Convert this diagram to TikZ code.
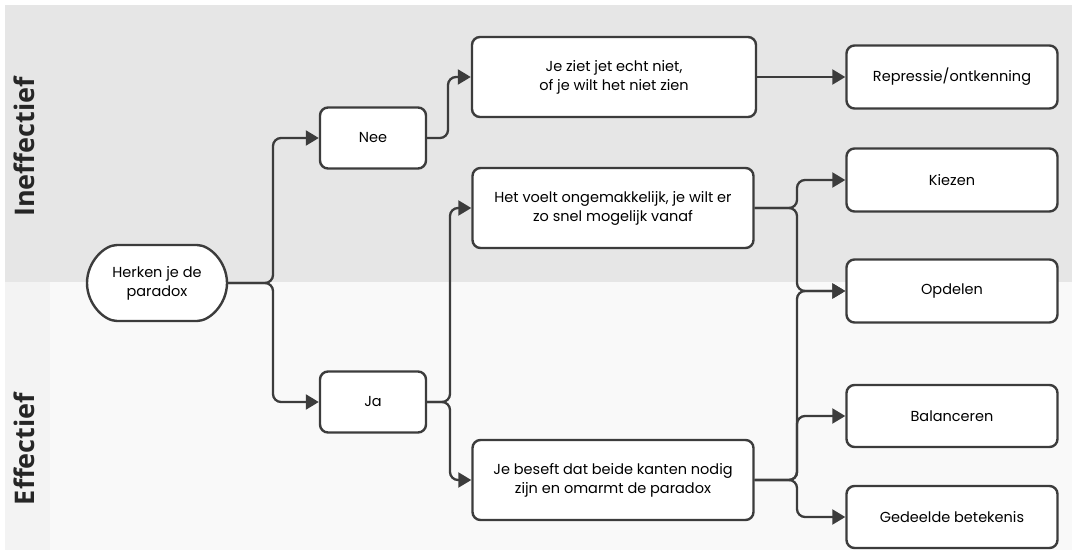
\documentclass[tikz,border=0pt]{standalone}
\usepackage{fontspec}
\setmainfont{Poppins}
\newfontfamily\sidefont{Open Sans}
\usetikzlibrary{arrows.meta,shapes.misc}
\definecolor{bandtop}{HTML}{E6E6E6}
\definecolor{bandlow}{HTML}{F9F9F9}
\definecolor{bandstrip}{HTML}{F3F3F3}
\definecolor{edge}{HTML}{3C3C3C}
\tikzset{
  box/.style={draw=edge, line width=2.4pt, fill=white, rounded corners=8pt,
    align=center, font=\fontsize{14.5}{19}\selectfont, inner sep=0pt},
  startbox/.style={box, rounded rectangle},
  conn/.style={draw=edge, line width=2.3pt, rounded corners=8pt,
    -{Triangle[length=13pt,width=15pt]}},
  side/.style={rotate=90, font=\sidefont\bfseries\fontsize{27}{27}\selectfont, text=black!85}
}
\begin{document}
\begin{tikzpicture}[x=1pt,y=-1pt]
        % canvas
        \useasboundingbox (0,0) rectangle (1072,554);
        \fill[white] (0,0) rectangle (1072,554);
        \fill[bandtop] (5,5) rectangle (1072,282);
        \fill[bandlow] (5,282) rectangle (1072,550);
        \fill[bandstrip] (5,282) rectangle (50,550);
        % side labels
        \node[side] (ineff) at (24,147) {Ineffectief};
        \node[side] (eff)   at (24,449) {Effectief};
        % nodes
        \node[startbox, minimum width=140pt, minimum height=76pt] (herken) at (157,283) {Herken je de\\paradox};
        \node[box, minimum width=106pt, minimum height=61pt] (nee) at (373,138) {Nee};
        \node[box, minimum width=106pt, minimum height=61pt] (ja)  at (373,402) {Ja};
        \node[box, minimum width=284pt, minimum height=80pt] (ziet)   at (614,77)  {Je ziet jet echt niet,\\of je wilt het niet zien};
        \node[box, minimum width=281pt, minimum height=80pt] (voelt)  at (613,208) {Het voelt ongemakkelijk, je wilt er\\zo snel mogelijk vanaf};
        \node[box, minimum width=281pt, minimum height=80pt] (beseft) at (613,480) {Je beseft dat beide kanten nodig\\zijn en omarmt de paradox};
        \node[box, minimum width=211pt, minimum height=63pt] (repressie)  at (952,77)  {Repressie/ontkenning};
        \node[box, minimum width=211pt, minimum height=63pt] (kiezen)     at (952,180) {Kiezen};
        \node[box, minimum width=211pt, minimum height=63pt] (opdelen)    at (952,291) {Opdelen};
        \node[box, minimum width=211pt, minimum height=62pt] (balanceren) at (952,416) {Balanceren};
        \node[box, minimum width=211pt, minimum height=62pt] (gedeeld)    at (952,517) {Gedeelde betekenis};
        % split points
        \coordinate (sherken) at (273,283);
        \coordinate (snee)    at (448,138);
        \coordinate (sja)     at (450,402);
        \coordinate (svoelt)  at (797,208);
        \coordinate (sbeseft) at (797,480);
        % connectors
        \draw[conn] (herken.east) -- (sherken) |- (nee.west);
        \draw[conn] (herken.east) -- (sherken) |- (ja.west);
        \draw[conn] (nee.east) -- (snee) |- (ziet.west);
        \draw[conn] (ja.east) -- (sja) |- (voelt.west);
        \draw[conn] (ja.east) -- (sja) |- (beseft.west);
        \draw[conn] (ziet.east) -- (repressie.west);
        \draw[conn] (voelt.east) -- (svoelt) |- (kiezen.west);
        \draw[conn] (voelt.east) -- (svoelt) |- (opdelen.west);
        \draw[conn] (beseft.east) -- (sbeseft) |- (opdelen.west);
        \draw[conn] (beseft.east) -- (sbeseft) |- (balanceren.west);
        \draw[conn] (beseft.east) -- (sbeseft) |- (gedeeld.west);
\end{tikzpicture}
\end{document}
